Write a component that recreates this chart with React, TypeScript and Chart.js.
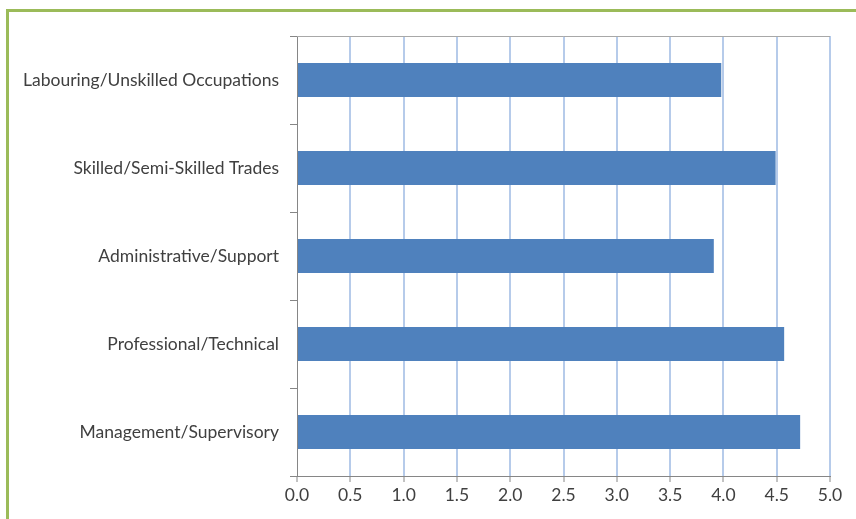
import React, { useEffect, useRef } from "react";
import { Chart, registerables } from "chart.js";

Chart.register(...registerables);

const categories = [
  "Labouring/Unskilled Occupations",
  "Skilled/Semi-Skilled Trades",
  "Administrative/Support",
  "Professional/Technical",
  "Management/Supervisory",
];
const values = [3.98, 4.49, 3.91, 4.57, 4.72];
const xTicksMin = 0;
const xTicksMax = 5;
const xTickStep = 0.5;

const topLine = {
  id: "topLine",
  afterDraw(chart: any) {
    const { ctx, chartArea } = chart;
    ctx.save();
    ctx.strokeStyle = "#A8A8A8";
    ctx.lineWidth = 1;
    ctx.beginPath();
    ctx.moveTo(chartArea.left, Math.round(chartArea.top) + 0.5);
    ctx.lineTo(chartArea.right, Math.round(chartArea.top) + 0.5);
    ctx.stroke();
    ctx.restore();
  },
};

export default function App() {
  const ref = useRef<HTMLCanvasElement | null>(null);
  useEffect(() => {
    document.body.style.margin = "0";
    const font = { family: "Lato, 'Open Sans', sans-serif", size: 17.5 };
    const chart = new Chart(ref.current as HTMLCanvasElement, {
      type: "bar",
      data: {
        labels: categories,
        datasets: [
          {
            data: values,
            backgroundColor: "#4F81BD",
            borderWidth: 0,
            categoryPercentage: 1,
            barPercentage: 0.386,
          },
        ],
      },
      plugins: [topLine],
      options: {
        indexAxis: "y",
        animation: false,
        responsive: false,
        maintainAspectRatio: false,
        layout: { padding: { left: 0, right: 26, top: 36, bottom: 0 } },
        plugins: { legend: { display: false }, tooltip: { enabled: false } },
        scales: {
          x: {
            min: xTicksMin,
            max: xTicksMax,
            ticks: {
              stepSize: xTickStep,
              color: "#404040",
              font,
              padding: 3,
              callback: (v: any) => Number(v).toFixed(1),
            },
            grid: {
              color: (c: any) => (c.index === 0 ? "rgba(0,0,0,0)" : "#B6CBEA"),
              lineWidth: 2,
              tickColor: "#868686",
              tickWidth: 1,
              tickLength: 6,
            },
            border: { color: "#868686", width: 1 },
            afterFit: (s: any) => {
              s.height = 43;
            },
          },
          y: {
            offset: true,
            ticks: { color: "#404040", font, padding: 11 },
            grid: {
              offset: true,
              drawOnChartArea: false,
              drawTicks: true,
              tickLength: 7,
              color: "#868686",
              tickColor: "#868686",
            },
            border: { color: "#868686", width: 1 },
            afterFit: (s: any) => {
              s.width = 297;
            },
          },
        },
      },
    });
    return () => chart.destroy();
  }, []);
  return (
    <div style={{ position: "relative", width: 856, height: 519, background: "#fff" }}>
      <canvas ref={ref} width={856} height={519} style={{ display: "block" }} />
      <div
        style={{
          position: "absolute",
          left: 6,
          top: 9,
          width: 860,
          height: 520,
          borderLeft: "3px solid #9BBB59",
          borderTop: "3px solid #9BBB59",
          pointerEvents: "none",
        }}
      />
    </div>
  );
}
